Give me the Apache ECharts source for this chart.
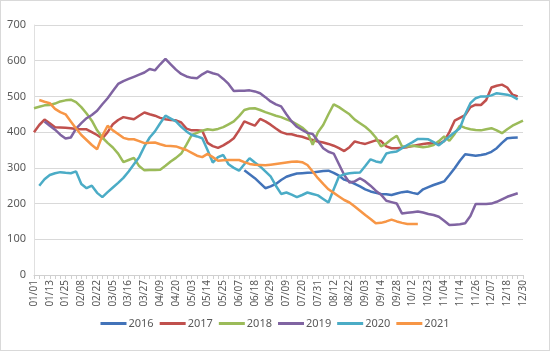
<!DOCTYPE html>
<html>
<head>
<meta charset="utf-8">
<script src="https://cdn.jsdelivr.net/npm/echarts@6/dist/echarts.min.js"></script>
<style>
  html, body { margin: 0; padding: 0; background: #fff; }
  #main { width: 548px; height: 349px; border: 1px solid #d9d9d9; }
</style>
</head>
<body>
<div id="main"></div>
<script>
// 日期（每3个显示一个标签）
var dates = [
    '01/01','01/05','01/09','01/13','01/17','01/21','01/25','01/30','02/04',
    '02/08','02/13','02/18','02/22','02/26','03/01','03/05','03/09','03/12',
    '03/16','03/20','03/23','03/27','03/31','04/05','04/09','04/13','04/16',
    '04/20','04/24','04/29','05/03','05/07','05/10','05/14','05/18','05/21',
    '05/25','05/29','06/03','06/07','06/11','06/14','06/18','06/22','06/25',
    '06/29','07/03','07/06','07/09','07/13','07/16','07/20','07/24','07/27',
    '07/31','08/04','08/08','08/12','08/15','08/18','08/22','08/26','08/30',
    '09/03','09/07','09/10','09/14','09/19','09/23','09/28','10/02','10/07',
    '10/12','10/16','10/19','10/23','10/27','10/31','11/04','11/07','11/10',
    '11/14','11/18','11/22','11/26','11/30','12/03','12/07','12/11','12/14',
    '12/18','12/22','12/26','12/30'
];

var years = ['2016', '2017', '2018', '2019', '2020', '2021'];
var colors = ['#4273b9', '#c0504d', '#9bbb59', '#8064a2', '#4bacc6', '#f79646'];

var y2016 = [
    null,null,null,null,null,null,null,null,null,null,
    null,null,null,null,null,null,null,null,null,null,
    null,null,null,null,null,null,null,null,null,null,
    null,null,null,null,null,null,null,null,null,null,
    293,282,271,257,243,248,255,266,275,280,
    284,285,286,287,289,291,292,286,278,267,
    262,255,248,240,234,230,227,226,224,228,
    232,234,230,227,240,246,252,257,262,280,
    299,320,338,336,334,336,339,345,355,370,
    383,384,385,null
];
var y2017 = [
    400,420,435,425,414,413,412,411,409,408,
    408,400,392,382,400,422,434,442,439,436,
    446,455,450,446,440,436,434,433,427,410,
    405,405,404,370,361,356,363,372,383,405,
    430,424,418,437,430,421,410,400,395,394,
    390,387,382,378,374,371,367,362,355,347,
    358,374,370,367,372,377,375,360,355,355,
    356,358,361,364,367,369,368,367,375,400,
    432,440,448,470,477,476,490,525,530,533,
    525,505,500,null
];
var y2018 = [
    467,471,475,476,480,486,489,491,484,470,
    452,432,405,385,370,357,340,316,322,328,
    305,293,294,294,295,306,318,328,340,365,
    392,398,404,408,406,409,414,422,430,445,
    462,466,467,462,456,451,446,442,436,430,
    422,413,400,365,400,420,450,478,470,460,
    450,435,425,415,402,385,360,368,380,390,
    360,360,362,360,358,360,364,375,388,376,
    395,418,412,408,406,405,408,411,405,397,
    408,418,425,432
];
var y2019 = [
    null,null,430,418,407,393,382,385,410,425,
    439,448,460,478,495,515,535,543,549,555,
    561,567,577,573,590,605,590,575,563,556,
    552,551,562,570,565,561,549,535,515,516,
    516,517,514,509,498,486,478,472,450,430,
    415,406,398,395,375,355,345,340,310,280,
    259,262,271,262,250,236,225,208,204,200,
    172,174,176,178,175,171,168,163,152,140,
    141,142,145,165,199,199,199,200,205,212,
    219,224,229,null
];
var y2020 = [
    null,250,268,280,285,288,286,285,290,255,
    243,250,230,218,232,245,258,272,290,310,
    330,360,385,402,425,446,438,430,415,402,
    392,388,383,350,315,330,336,310,300,292,
    310,327,315,304,290,276,250,227,231,225,
    218,224,231,227,223,213,203,240,276,282,
    285,286,287,305,324,318,315,340,344,346,
    355,364,372,381,381,380,372,363,375,388,
    400,411,450,481,495,500,500,503,509,507,
    505,500,492,null
];
var y2021 = [
    null,490,485,481,465,456,450,430,410,392,
    378,364,352,390,418,405,395,384,380,380,
    375,369,370,371,366,362,361,360,355,350,
    342,334,330,339,330,320,321,322,322,322,
    316,311,309,308,307,309,311,313,315,317,
    318,316,308,290,271,255,240,230,220,210,
    203,192,180,168,157,145,146,150,155,150,
    146,143,143,143,null,null,null,null,null,null,
    null,null,null,null,null,null,null,null,null,null,
    null,null,null,null
];
var seriesData = [y2016, y2017, y2018, y2019, y2020, y2021];

var myChart = echarts.init(document.getElementById('main'));

var series = [];
for (var i = 0; i < years.length; i++) {
    series.push({
        name: years[i],
        type: 'line',
        data: seriesData[i],
        symbol: 'none',
        lineStyle: { width: 2.5, color: colors[i] },
        itemStyle: { color: colors[i] },
        z: 2 + i
    });
}

myChart.setOption({
    animation: false,
    textStyle: { fontFamily: 'Noto Sans' },
    grid: { left: 33, right: 26, top: 24, bottom: 75 },
    legend: {
        data: years,
        bottom: 16,
        left: 'center',
        itemWidth: 26,
        itemHeight: 3,
        itemGap: 6,
        icon: 'rect',
        textStyle: { color: '#595959', fontSize: 11, padding: [0, 0, 0, -3] }
    },
    xAxis: {
        type: 'category',
        data: dates,
        boundaryGap: false,
        axisLine: { lineStyle: { color: '#d0d0d0' } },
        axisTick: { interval: 0, length: 4, lineStyle: { color: '#d0d0d0' } },
        axisLabel: {
            interval: 2,
            rotate: 90,
            color: '#595959',
            fontSize: 10,
            margin: 5
        }
    },
    yAxis: {
        type: 'value',
        min: 0,
        max: 700,
        interval: 100,
        axisLine: { show: true, lineStyle: { color: '#e0e0e0' } },
        axisTick: { show: false },
        axisLabel: { color: '#595959', fontSize: 11, margin: 8 },
        splitLine: { lineStyle: { color: '#d9d9d9' } }
    },
    series: series
});
</script>
</body>
</html>
